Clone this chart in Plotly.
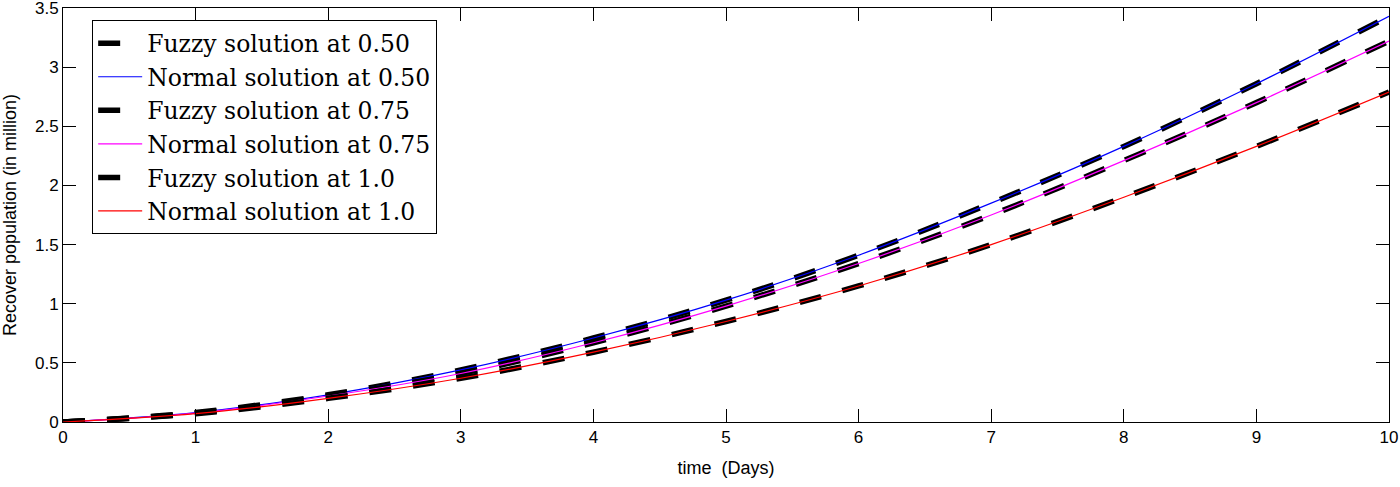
import plotly.graph_objects as go

days = [0, 1, 2, 3, 4, 5, 6, 7, 8, 9, 10]
rec_050 = [0, 0.08, 0.23, 0.44, 0.71, 1.03, 1.41, 1.85, 2.33, 2.86, 3.43]
rec_075 = [0, 0.075, 0.22, 0.41, 0.67, 0.98, 1.34, 1.75, 2.21, 2.70, 3.22]
rec_100 = [0, 0.07, 0.20, 0.37, 0.59, 0.85, 1.15, 1.50, 1.90, 2.33, 2.79]

series = [
    ("0.50", rec_050, "#0000ff"),
    ("0.75", rec_075, "#ff00ff"),
    ("1.0", rec_100, "#ff0000"),
]

fig = go.Figure()
for label, vals, col in series:
    fig.add_trace(go.Scatter(
        x=days, y=vals, mode="lines", name=f"Fuzzy solution at {label}",
        line=dict(color="black", width=5.5, dash="22px,22px", shape="spline"),
    ))
    fig.add_trace(go.Scatter(
        x=days, y=vals, mode="lines", name=f"Normal solution at {label}",
        line=dict(color=col, width=1.2, shape="spline"),
    ))

axis_common = dict(
    showline=True, linecolor="black", linewidth=1, mirror="ticks",
    ticks="inside", ticklen=13, tickcolor="black", tickwidth=1,
    showgrid=False, zeroline=False, automargin=False,
    ticklabeloverflow="allow",
    tickfont=dict(family="Liberation Sans, Arial, sans-serif", size=17, color="black"),
)

fig.update_layout(
    width=1400, height=487,
    margin=dict(l=63, r=11, t=8, b=65),
    paper_bgcolor="white", plot_bgcolor="white",
    xaxis=dict(range=[0, 10], dtick=1,
               title=dict(text="time\u00a0\u00a0(Days)", standoff=14,
                          font=dict(family="Liberation Sans, Arial, sans-serif", size=18, color="black")),
               **axis_common),
    yaxis=dict(range=[0, 3.5], dtick=0.5, **axis_common),
    legend=dict(
        x=0.022, y=0.97, xanchor="left", yanchor="top",
        bgcolor="white", bordercolor="black", borderwidth=1,
        itemwidth=44,
        font=dict(family="DejaVu Serif, Liberation Serif, serif", size=23.5, color="black"),
    ),
    showlegend=True,
    annotations=[dict(
        text="Recover population (in million)", textangle=-90,
        xref="paper", yref="paper", x=-(63 - 10) / 1326, y=0.5,
        xanchor="center", yanchor="middle", showarrow=False,
        font=dict(family="Liberation Sans, Arial, sans-serif", size=18, color="black"),
    )],
)

fig.write_html("out.html", config={"displayModeBar": False},
               post_script="document.body.style.margin='0';document.body.style.padding='0';")
